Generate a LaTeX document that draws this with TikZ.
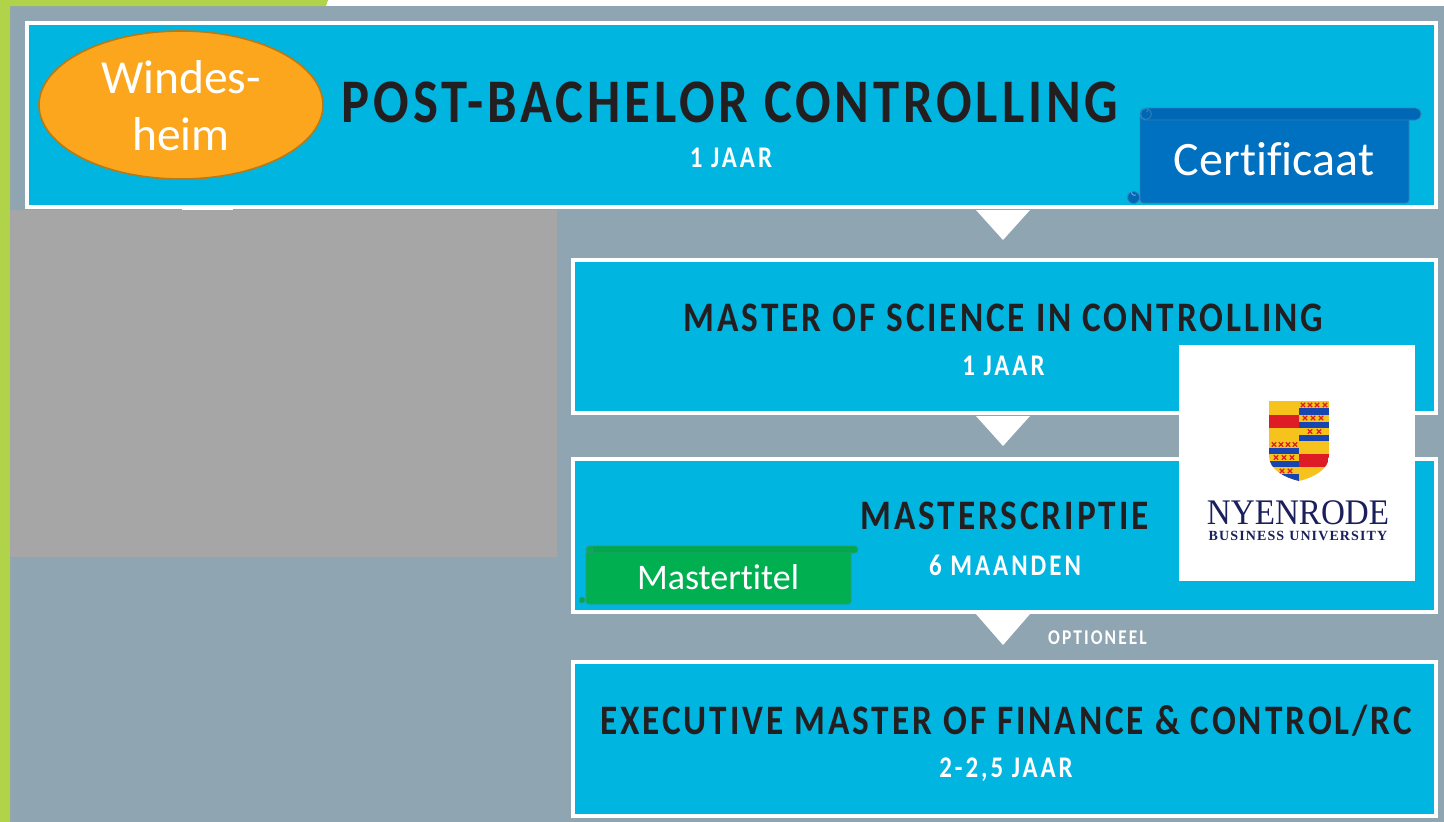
\documentclass[tikz,border=0pt]{standalone}
\usepackage{fontspec}
\usetikzlibrary{shapes.geometric}
\setmainfont{Carlito}[Ligatures=NoCommon]
\newfontfamily\headfont[LetterSpace=7,FakeStretch=0.84]{Carlito}
\newfontfamily\titlefont[LetterSpace=6.2,FakeStretch=0.85]{Carlito}
\newfontfamily\subfont[LetterSpace=10,FakeStretch=0.83]{Carlito}
\newfontfamily\serifa[FakeStretch=0.92]{Liberation Serif}
\newfontfamily\serifb[LetterSpace=8]{Liberation Serif}
\definecolor{bgblue}{HTML}{8FA5B2}
\definecolor{lime}{HTML}{B0D34A}
\definecolor{panel}{HTML}{A6A6A6}
\definecolor{cyanbox}{HTML}{00B5E0}
\definecolor{inkdark}{HTML}{231F20}
\definecolor{orangefill}{HTML}{FBA61C}
\definecolor{orangeedge}{HTML}{B87A14}
\definecolor{certblue}{HTML}{0070C0}
\definecolor{certdark}{HTML}{0066B6}
\definecolor{certedge}{HTML}{2F86B8}
\definecolor{mastergreen}{HTML}{00B050}
\definecolor{greendark}{HTML}{00A84D}
\definecolor{greenedge}{HTML}{2C9A78}
\definecolor{navylogo}{HTML}{1B1F5C}
\definecolor{shieldyellow}{HTML}{F6C21C}
\definecolor{shieldred}{HTML}{DD1C26}
\definecolor{shieldblue}{HTML}{1846B0}
\tikzset{
 box/.style={draw=white,line width=3.6pt,fill=cyanbox,inner sep=0pt,outer sep=0pt},
 head/.style={text=inkdark,inner sep=0pt,font=\headfont\bfseries\fontsize{#1}{#1}\selectfont},
 title/.style={text=inkdark,inner sep=0pt,font=\titlefont\bfseries\fontsize{#1}{#1}\selectfont},
 sub/.style={text=white,inner sep=0pt,font=\subfont\bfseries\fontsize{#1}{#1}\selectfont},
 tip/.style={fill=white},
 scrolllabel/.style={text=white,inner sep=0pt,font=\fontsize{#1}{#1}\selectfont},
}
\newcommand{\xmark}[2]{\draw[shieldred,line width=1.2pt] (#1-2.2,#2-2.2) -- (#1+2.2,#2+2.2) (#1-2.2,#2+2.2) -- (#1+2.2,#2-2.2);}
\begin{document}
\begin{tikzpicture}[x=1pt,y=-1pt]
\useasboundingbox (0,0) rectangle (1444,822);
\fill[white] (0,0) rectangle (1444,822);
\fill[bgblue] (10,6) rectangle (1444,822);
\fill[lime] (0,0) -- (328,0) -- (326,6) -- (10,6) -- (10,822) -- (0,822) -- cycle;
\fill[panel] (10,210) rectangle (557,557);
\fill[white] (182,208) rectangle (233,210);
% boxes
\node[box,minimum width=1409pt,minimum height=184pt] (b1) at (731.5,115) {};
\node[box,minimum width=863pt,minimum height=153pt] (b2) at (1004.5,336.5) {};
\node[box,minimum width=863pt,minimum height=153pt] (b3) at (1004.5,535.5) {};
\node[box,minimum width=863pt,minimum height=154pt] (b4) at (1004.5,739) {};
% pointers
\fill[tip] (976,210) -- (1030,210) -- (1003,240) -- cycle;
\fill[tip] (976,416) -- (1030,416) -- (1003,446) -- cycle;
\fill[tip] (976,614) -- (1030,614) -- (1003,645) -- cycle;
% ellipse
\node[ellipse,draw=orangeedge,line width=1.6pt,fill=orangefill,minimum width=284pt,minimum height=148pt,inner sep=0pt] (ws) at (181,105) {};
\node[text=white,inner sep=0pt,align=center,font=\fontsize{47.5}{57}\selectfont] (wst) at (181,106) {Windes-\\heim};
% titles
\node[title=62] (t1) at (730,102) {POST-BACHELOR CONTROLLING};
\node[sub=30] (s1) at (731,158) {1 JAAR};
\node[head=42] (t2) at (1003.5,318) {MASTER OF SCIENCE IN CONTROLLING};
\node[sub=30] (s2) at (1003.5,366) {1 JAAR};
\node[head=42] (t3) at (1004.5,516) {MASTERSCRIPTIE};
\node[sub=30] (s3) at (1005,565) {6 MAANDEN};
\node[sub=21] (s5) at (1097.5,638) {OPTIONEEL};
\node[head=42] (t4) at (1006,721) {EXECUTIVE MASTER OF FINANCE \& CONTROL/RC};
\node[sub=30] (s4) at (1006,770) {2-2,5 JAAR};
% certificaat scroll
\draw[certedge,line width=.8pt,fill=certblue,rounded corners=3pt] (1140,114) rectangle (1409,203);
\draw[certedge,line width=.8pt,fill=certdark,rounded corners=5.5pt] (1140,108) rectangle (1421,120);
\draw[certedge,line width=.8pt,fill=certdark] (1146,114) circle (5.5);
\draw[certedge,line width=.8pt] (1146,112) arc (90:-90:2);
\draw[certedge,line width=.8pt,fill=certdark] (1133.5,197.5) circle (6);
\draw[certblue!50!white,line width=.8pt] (1136,195) arc (60:200:3);
\node[scrolllabel=48] (cert) at (1274,159) {Certificaat};
% mastertitel scroll
\draw[greenedge,line width=.6pt,fill=mastergreen,rounded corners=3pt] (586,551) rectangle (851,604);
\draw[greenedge,line width=.6pt,fill=greendark,rounded corners=3.5pt] (586,546) rectangle (858,553);
\draw[greenedge,line width=.6pt,fill=mastergreen] (590,549.5) circle (3);
\draw[greenedge,line width=.6pt,fill=greendark] (582,600) circle (3);
\node[scrolllabel=36] (mt) at (718,577) {Mastertitel};
% logo
\fill[white] (1179,345) rectangle (1415,581);
\begin{scope}
\clip (1269,401) -- (1329,401) -- (1329,456) .. controls (1329,470) and (1312,478) .. (1299,481) .. controls (1286,478) and (1269,470) .. (1269,456) -- cycle;
\fill[shieldyellow] (1269,401) rectangle (1329,481);
\fill[shieldred] (1269,415) rectangle (1299,428);
\fill[shieldblue] (1269,448) rectangle (1299,454);
\fill[shieldblue] (1269,461) rectangle (1299,467);
\fill[shieldblue] (1269,474) rectangle (1299,481);
\fill[shieldblue] (1299,408) rectangle (1329,415);
\fill[shieldblue] (1299,422) rectangle (1329,428);
\fill[shieldblue] (1299,435) rectangle (1329,441);
\fill[shieldred] (1299,454) rectangle (1329,467);
\end{scope}
\foreach \x in {1303,1310,1317,1325} {\xmark{\x}{405}}
\foreach \x in {1305,1313,1321} {\xmark{\x}{418}}
\foreach \x in {1310,1319} {\xmark{\x}{431.5}}
\foreach \x in {1274,1281,1288,1295} {\xmark{\x}{444.5}}
\foreach \x in {1276,1284,1292} {\xmark{\x}{457.5}}
\foreach \x in {1282,1290} {\xmark{\x}{471}}
\node[text=navylogo,inner sep=0pt,font=\serifa\fontsize{36}{36}\selectfont] (ny) at (1298,513) {NYENRODE};
\node[text=navylogo,inner sep=0pt,font=\serifb\bfseries\fontsize{14}{14}\selectfont] (bu) at (1298,535.5) {BUSINESS\hspace{5pt}UNIVERSITY};
\end{tikzpicture}
\end{document}
